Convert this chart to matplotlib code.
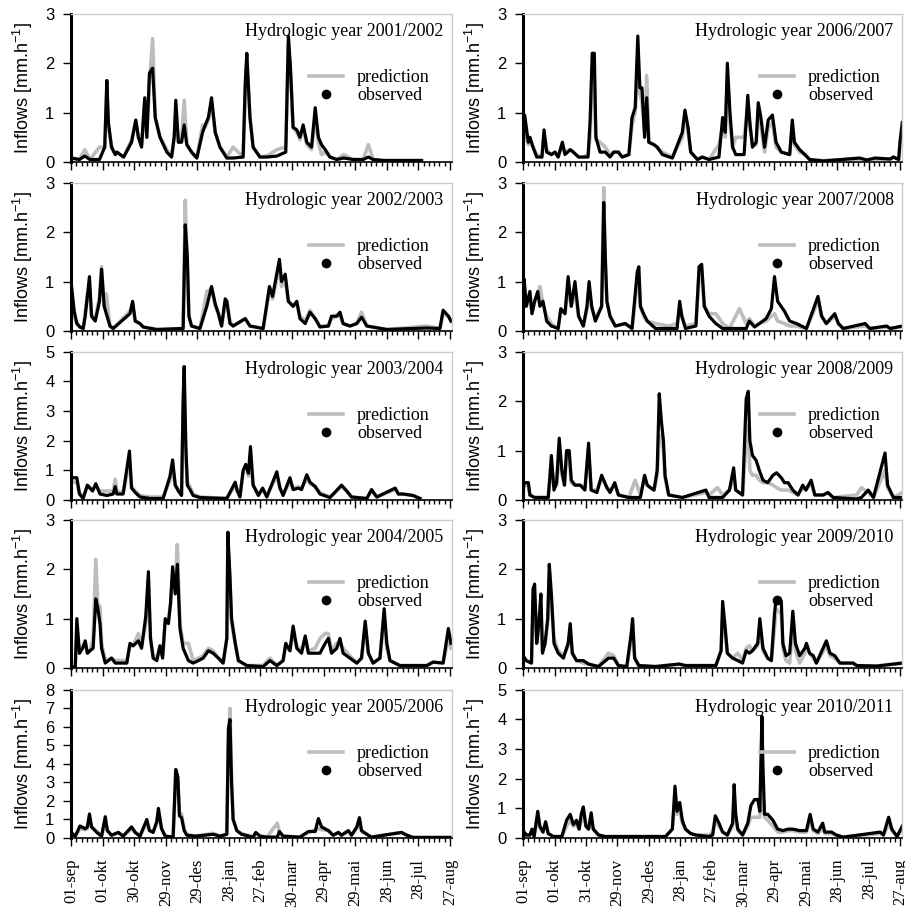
"""
Hourly inflows, predicted vs observed, for ten hydrologic years (2001-2011).
Two columns of five panels, shared day-of-year axis starting 01-sep.
"""

import matplotlib
matplotlib.use("Agg")
import matplotlib.pyplot as plt
import matplotlib.ticker as ticker
from matplotlib.lines import Line2D

plt.rcParams["mathtext.default"] = "regular"

SERIF = "Liberation Serif"
SANS = "Liberation Sans"
PRED_COLOR = "#bdbdbd"
OBS_COLOR = "black"

# x axis: days since 01-sep, one major tick per ~30 days
TICK_DAYS = [0, 30, 60, 90, 120, 150, 180, 210, 240, 270, 300, 330, 360]
LEFT_TICKS = ["01-sep", "01-okt", "30-okt", "29-nov", "29-des", "28-jan", "27-feb",
              "30-mar", "29-apr", "29-mai", "28-jun", "28-jul", "27-aug"]
RIGHT_TICKS = ["01-sep", "01-okt", "31-okt", "29-nov", "29-des", "28-jan", "27-feb",
               "30-mar", "29-apr", "29-mai", "28-jun", "28-jul", "27-aug"]

# ---- 2001/2002 ----
D01 = [0, 8, 13, 18, 27, 32, 34, 35.5, 38.5, 42, 43.5, 50, 57.5, 61.5, 64, 67, 70, 72, 74.5, 77.5,
       80, 84.5, 91, 95.5, 98, 99.5, 102, 105, 107.5, 110, 114.5, 119.5, 125, 127.5, 130.5, 133.5, 137, 141.5, 148, 154,
       163.5, 165.5, 167, 170, 173, 179.5, 186, 195.5, 204, 206.5, 208.5, 211, 214.5, 217.5, 220.5, 224, 228.5, 232, 235, 238,
       241.5, 246, 252.5, 259, 268, 277.5, 282.5, 287, 297, 333]
O01 = [0.08, 0.05, 0.12, 0.05, 0.05, 0.3, 1.65, 0.8, 0.3, 0.15, 0.2, 0.1, 0.4, 0.85, 0.5, 0.3, 1.3, 0.5, 1.8, 1.9,
       0.9, 0.5, 0.2, 0.1, 0.5, 1.25, 0.4, 0.4, 0.75, 0.35, 0.2, 0.08, 0.6, 0.75, 0.9, 1.3, 0.6, 0.3, 0.08, 0.08,
       0.1, 1.6, 2.2, 0.9, 0.3, 0.1, 0.1, 0.12, 0.2, 2.55, 1.9, 0.7, 0.65, 0.5, 0.75, 0.4, 0.3, 1.1, 0.5, 0.35,
       0.25, 0.1, 0.05, 0.08, 0.05, 0.05, 0.1, 0.05, 0.03, 0.03]
P01 = [0.08, 0.05, 0.25, 0.05, 0.3, 0.3, 1.5, 0.7, 0.3, 0.15, 0.2, 0.1, 0.45, 0.8, 0.5, 0.35, 1.2, 0.5, 1.6, 2.5,
       0.9, 0.5, 0.25, 0.1, 0.5, 0.9, 0.4, 0.45, 1.25, 0.35, 0.2, 0.08, 0.75, 0.7, 0.85, 1.2, 0.6, 0.3, 0.1, 0.3,
       0.1, 1.3, 2.0, 0.9, 0.3, 0.1, 0.12, 0.25, 0.3, 2.4, 1.8, 0.7, 0.6, 0.45, 0.7, 0.35, 0.25, 0.9, 0.4, 0.15,
       0.2, 0.1, 0.05, 0.15, 0.05, 0.05, 0.35, 0.05, 0.03, 0.03]

# ---- 2002/2003 ----
D02 = [0, 3, 5.5, 8.5, 11.5, 13.5, 15.5, 17.5, 19.5, 23, 27, 29, 31.5, 33.5, 37, 40, 56, 58.5, 61, 65.5,
       68.5, 81.5, 106.5, 108.5, 110.5, 112, 114.5, 122.5, 129, 133.5, 137, 140, 143, 146.5, 148, 151, 154, 165.5, 170, 182.5,
       188.5, 191.5, 198, 200, 203.5, 206.5, 211, 214.5, 217.5, 222.5, 227, 232, 236.5, 244.5, 247.5, 252.5, 255.5, 258.5, 265, 271.5,
       276, 281, 300, 338, 350.5, 353.5, 358.5, 361]
O02 = [1.0, 0.4, 0.15, 0.08, 0.05, 0.3, 0.7, 1.1, 0.3, 0.2, 0.6, 1.25, 0.5, 0.35, 0.1, 0.05, 0.35, 0.6, 0.2, 0.15,
       0.08, 0.03, 0.05, 2.15, 1.5, 0.3, 0.1, 0.05, 0.5, 0.9, 0.55, 0.35, 0.1, 0.65, 0.6, 0.15, 0.1, 0.25, 0.1, 0.05,
       0.9, 0.7, 1.45, 1.0, 1.15, 0.6, 0.5, 0.6, 0.25, 0.15, 0.38, 0.25, 0.08, 0.1, 0.3, 0.3, 0.38, 0.15, 0.1, 0.15,
       0.28, 0.1, 0.03, 0.06, 0.05, 0.42, 0.3, 0.2]
P02 = [0.6, 0.3, 0.15, 0.08, 0.05, 0.4, 0.75, 0.8, 0.3, 0.25, 0.7, 1.3, 0.5, 0.75, 0.1, 0.05, 0.4, 0.55, 0.2, 0.15,
       0.08, 0.03, 0.05, 2.65, 1.2, 0.3, 0.1, 0.05, 0.8, 0.85, 0.5, 0.35, 0.1, 0.55, 0.6, 0.2, 0.1, 0.25, 0.1, 0.05,
       0.8, 0.65, 1.3, 0.9, 1.0, 0.6, 0.5, 0.55, 0.3, 0.2, 0.42, 0.25, 0.1, 0.1, 0.25, 0.3, 0.3, 0.15, 0.1, 0.15,
       0.38, 0.1, 0.03, 0.1, 0.05, 0.35, 0.3, 0.2]

# ---- 2003/2004 ----
D03 = [0, 5.5, 8, 11.5, 15.5, 18, 20.5, 23.5, 27.5, 34, 40, 42, 43.5, 49.5, 55.5, 57.5, 61, 65.5, 75, 87.5,
       94, 96.5, 99, 102, 105, 106.5, 107.5, 109, 110.5, 113, 116, 122.5, 148, 156, 158, 160.5, 163.5, 166, 168.5, 170.5,
       173, 178, 182, 186, 195.5, 198.5, 201.5, 208, 211, 216, 219, 224, 227, 232, 236.5, 246, 257, 262, 266.5, 281,
       285.5, 290.5, 308, 311, 315.5, 325, 331.5]
O03 = [0.75, 0.75, 0.2, 0.05, 0.5, 0.4, 0.3, 0.55, 0.2, 0.15, 0.2, 0.45, 0.2, 0.2, 1.65, 0.4, 0.25, 0.1, 0.05, 0.05,
       0.8, 1.35, 0.5, 0.3, 0.15, 3.4, 4.5, 1.9, 0.5, 0.35, 0.15, 0.08, 0.05, 0.6, 0.3, 0.1, 1.0, 1.2, 0.9, 1.8,
       0.5, 0.15, 0.4, 0.1, 0.95, 0.4, 0.15, 0.75, 0.35, 0.4, 0.35, 0.85, 0.6, 0.45, 0.2, 0.08, 0.5, 0.3, 0.1, 0.05,
       0.35, 0.1, 0.4, 0.2, 0.2, 0.15, 0.05]
P03 = [0.6, 0.6, 0.25, 0.1, 0.45, 0.4, 0.35, 0.5, 0.3, 0.3, 0.3, 0.7, 0.3, 0.25, 1.3, 0.45, 0.3, 0.15, 0.1, 0.1,
       0.65, 1.1, 0.5, 0.35, 0.2, 3.0, 4.0, 1.5, 0.6, 0.45, 0.2, 0.1, 0.05, 0.5, 0.3, 0.15, 0.9, 1.1, 0.8, 1.4,
       0.5, 0.2, 0.35, 0.15, 0.8, 0.4, 0.2, 0.6, 0.4, 0.45, 0.4, 0.7, 0.55, 0.45, 0.25, 0.1, 0.45, 0.3, 0.1, 0.05,
       0.3, 0.1, 0.35, 0.2, 0.2, 0.15, 0.05]

# ---- 2004/2005 ----
D04 = [0, 4, 5.5, 8, 11, 13.5, 15.5, 18, 21, 23.5, 25.5, 27.5, 29, 32.5, 38.5, 42, 53, 56, 59, 64,
       67, 71, 73.5, 75.5, 78, 81.5, 84.5, 87, 89.5, 92.5, 94.5, 96.5, 99, 101, 103.5, 106.5, 111.5, 116, 121, 125.5,
       130.5, 135, 140, 144.5, 148, 149, 151, 152.5, 156, 159, 167, 182.5, 189, 195.5, 201.5, 204, 208, 211, 214.5, 219,
       222.5, 225.5, 232, 236.5, 241.5, 244.5, 247.5, 252.5, 255.5, 258.5, 265, 271.5, 276, 279.5, 282.5, 287, 293.5, 297.5, 300, 303,
       312.5, 338, 344, 353.5, 358.5, 361]
O04 = [0.02, 0.02, 1.0, 0.3, 0.4, 0.55, 0.3, 0.35, 0.4, 1.4, 1.2, 0.9, 0.4, 0.1, 0.2, 0.1, 0.1, 0.5, 0.45, 0.55,
       0.4, 1.05, 1.95, 0.6, 0.2, 0.15, 0.45, 0.2, 1.0, 0.9, 1.3, 2.05, 1.5, 2.1, 0.8, 0.4, 0.15, 0.1, 0.15, 0.2,
       0.35, 0.3, 0.2, 0.1, 0.6, 2.75, 1.85, 1.0, 0.5, 0.15, 0.05, 0.03, 0.15, 0.05, 0.15, 0.5, 0.35, 0.85, 0.4, 0.3,
       0.65, 0.3, 0.3, 0.3, 0.5, 0.6, 0.3, 0.4, 0.6, 0.3, 0.2, 0.1, 0.2, 0.95, 0.3, 0.1, 0.2, 1.2, 0.5, 0.15,
       0.05, 0.05, 0.12, 0.1, 0.8, 0.5]
P04 = [0.02, 0.02, 0.8, 0.3, 0.45, 0.5, 0.3, 0.35, 0.6, 2.2, 1.25, 1.25, 0.5, 0.15, 0.2, 0.15, 0.15, 0.45, 0.45, 0.7,
       0.45, 0.9, 1.6, 0.6, 0.25, 0.2, 0.45, 0.25, 0.9, 1.0, 1.3, 1.9, 1.7, 2.5, 0.9, 0.5, 0.5, 0.15, 0.2, 0.25,
       0.4, 0.35, 0.2, 0.1, 0.6, 2.5, 1.7, 0.9, 0.5, 0.15, 0.05, 0.05, 0.2, 0.05, 0.15, 0.45, 0.35, 0.7, 0.45, 0.35,
       0.6, 0.35, 0.4, 0.6, 0.7, 0.7, 0.35, 0.5, 0.5, 0.4, 0.25, 0.1, 0.2, 0.8, 0.3, 0.1, 0.2, 1.0, 0.4, 0.15,
       0.05, 0.05, 0.12, 0.1, 0.6, 0.4]

# ---- 2005/2006 ----
D05 = [0, 4, 8.5, 13.5, 15.5, 17.5, 19.5, 24.5, 29, 32.5, 34.5, 38.5, 45, 49.5, 57.5, 61, 65.5, 72, 74.5, 78,
       81.5, 83, 86, 89.5, 97, 99.5, 101.5, 103, 105, 107.5, 110, 118, 135, 141.5, 148, 149.5, 151, 152.5, 154, 157.5,
       162, 173, 175.5, 179.5, 186, 196, 198, 201.5, 217.5, 225.5, 232, 235, 238, 244.5, 249, 254, 257, 263.5, 266.5, 271.5,
       274, 276, 281, 285.5, 314, 319, 325, 360]
O05 = [0.3, 0.1, 0.65, 0.5, 0.6, 1.3, 0.6, 0.3, 0.1, 1.15, 0.4, 0.15, 0.3, 0.1, 0.6, 0.3, 0.1, 1.0, 0.4, 0.3,
       0.9, 1.6, 0.5, 0.1, 0.05, 3.7, 3.3, 1.2, 1.1, 0.4, 0.15, 0.1, 0.2, 0.1, 0.2, 5.9, 6.4, 3.0, 1.0, 0.4,
       0.2, 0.05, 0.3, 0.1, 0.05, 0.05, 0.35, 0.1, 0.05, 0.35, 0.35, 1.05, 0.6, 0.4, 0.15, 0.3, 0.15, 0.4, 0.15, 0.6,
       1.1, 0.4, 0.2, 0.05, 0.3, 0.15, 0.03, 0.03]
P05 = [0.3, 0.1, 0.5, 0.45, 0.5, 1.0, 0.6, 0.35, 0.1, 0.9, 0.4, 0.15, 0.3, 0.1, 0.5, 0.3, 0.1, 0.8, 0.4, 0.35,
       0.8, 1.3, 0.5, 0.1, 0.05, 3.6, 3.0, 1.3, 1.3, 0.45, 0.2, 0.1, 0.25, 0.1, 0.2, 5.0, 7.0, 3.3, 1.0, 0.4,
       0.25, 0.05, 0.25, 0.1, 0.05, 0.8, 0.3, 0.1, 0.05, 0.3, 0.45, 0.5, 0.45, 0.4, 0.15, 0.3, 0.15, 0.35, 0.15, 0.5,
       0.9, 0.35, 0.2, 0.05, 0.3, 0.15, 0.03, 0.03]

# ---- 2006/2007 ----
D06 = [0, 1.5, 5, 6.5, 9.5, 13, 18, 20, 22.5, 27, 30.5, 33.5, 37.5, 40, 45, 48, 53, 57.5, 62, 64,
       66, 68, 69.5, 73.5, 78.5, 83, 86.5, 91, 94.5, 101, 104, 107, 109.5, 111.5, 113.5, 116, 118, 120, 125, 128,
       133, 142.5, 152, 154.5, 157.5, 160, 166.5, 171, 177.5, 187, 190.5, 193, 195, 197.5, 200, 203, 208, 211, 214.5, 216.5,
       219, 222.5, 224.5, 227, 230.5, 234, 238, 241.5, 246.5, 254.5, 257, 259, 264, 269, 273.5, 286.5, 321.5, 328, 336, 350.5,
       353.5, 358.5, 360, 362]
O06 = [0.3, 0.95, 0.4, 0.5, 0.3, 0.1, 0.1, 0.65, 0.2, 0.15, 0.2, 0.1, 0.4, 0.15, 0.25, 0.2, 0.1, 0.1, 0.1, 0.85,
       2.2, 2.2, 0.5, 0.2, 0.2, 0.1, 0.2, 0.2, 0.1, 0.15, 0.9, 1.1, 2.55, 1.5, 1.5, 0.5, 1.3, 0.4, 0.35, 0.3,
       0.15, 0.08, 0.6, 1.05, 0.7, 0.2, 0.05, 0.1, 0.05, 0.1, 0.9, 0.6, 2.0, 1.0, 0.3, 0.15, 0.15, 0.15, 1.35, 0.8,
       0.3, 0.4, 1.2, 0.9, 0.3, 0.85, 0.95, 0.4, 0.2, 0.15, 0.85, 0.4, 0.25, 0.15, 0.05, 0.02, 0.08, 0.04, 0.08, 0.06,
       0.1, 0.05, 0.45, 0.8]
P06 = [0.3, 0.7, 0.35, 0.45, 0.3, 0.15, 0.1, 0.55, 0.25, 0.15, 0.2, 0.1, 0.35, 0.2, 0.25, 0.2, 0.1, 0.1, 0.15, 0.5,
       1.9, 1.5, 0.45, 0.4, 0.3, 0.15, 0.2, 0.2, 0.1, 0.15, 0.75, 1.0, 1.75, 1.4, 1.2, 0.6, 1.75, 0.4, 0.35, 0.3,
       0.2, 0.1, 0.5, 0.9, 0.6, 0.2, 0.05, 0.1, 0.05, 0.35, 0.7, 0.5, 1.6, 0.8, 0.3, 0.5, 0.5, 0.5, 1.1, 0.7,
       0.35, 0.35, 1.0, 0.75, 0.2, 0.7, 0.8, 0.3, 0.2, 0.15, 0.7, 0.35, 0.2, 0.15, 0.05, 0.03, 0.06, 0.04, 0.06, 0.05,
       0.1, 0.05, 0.4, 0.6]

# ---- 2007/2008 ----
D07 = [0, 1, 3, 6.5, 8.5, 11, 14, 16, 19, 22.5, 27, 33.5, 36, 40, 43, 46, 49.5, 53, 57.5, 61,
       63, 65.5, 69, 75, 77, 78.5, 80, 83, 88, 97.5, 104, 109, 110.5, 112, 115, 118.5, 126.5, 139, 147, 149.5,
       151.5, 155, 165, 168, 170.5, 173, 177.5, 184, 190.5, 197, 206.5, 213, 216, 221, 225.5, 232, 237, 240, 243, 249.5,
       254.5, 261, 270.5, 281.5, 285, 289.5, 297.5, 301, 305.5, 326.5, 331, 347, 350.5, 362]
O07 = [0.5, 1.05, 0.5, 0.8, 0.35, 0.6, 0.8, 0.5, 0.6, 0.2, 0.1, 0.05, 0.45, 0.35, 1.1, 0.5, 1.0, 0.3, 0.1, 0.5,
       1.0, 0.5, 0.2, 0.5, 2.6, 1.5, 0.6, 0.3, 0.1, 0.15, 0.05, 1.2, 1.3, 0.5, 0.35, 0.2, 0.05, 0.05, 0.05, 0.6,
       0.3, 0.05, 0.1, 1.3, 1.35, 0.5, 0.3, 0.15, 0.05, 0.05, 0.05, 0.05, 0.2, 0.08, 0.15, 0.25, 0.45, 1.1, 0.6, 0.4,
       0.2, 0.15, 0.05, 0.7, 0.3, 0.15, 0.35, 0.15, 0.05, 0.15, 0.05, 0.1, 0.05, 0.1]
P07 = [0.5, 0.9, 0.5, 0.7, 0.35, 0.6, 0.7, 0.9, 0.55, 0.3, 0.15, 0.05, 0.45, 0.35, 0.9, 0.5, 0.8, 0.3, 0.1, 0.45,
       0.85, 0.45, 0.25, 0.5, 2.9, 1.3, 0.6, 0.3, 0.1, 0.15, 0.05, 1.0, 1.1, 0.5, 0.3, 0.2, 0.15, 0.1, 0.15, 0.5,
       0.3, 0.1, 0.15, 1.1, 1.2, 0.5, 0.35, 0.35, 0.15, 0.05, 0.45, 0.15, 0.25, 0.1, 0.15, 0.2, 0.3, 0.35, 0.2, 0.15,
       0.1, 0.1, 0.05, 0.6, 0.3, 0.15, 0.3, 0.15, 0.05, 0.1, 0.05, 0.08, 0.05, 0.08]

# ---- 2008/2009 ----
D08 = [0, 1, 5, 6.5, 11, 24, 25.5, 27, 29.5, 32, 34.5, 37, 39.5, 41.5, 44, 46, 49.5, 54.5, 59, 62.5,
       65, 70.5, 75, 80, 83, 87.5, 91, 101, 107, 112, 116, 118.5, 121.5, 125, 128, 130, 132, 134, 135.5, 139,
       152, 174.5, 177.5, 185.5, 190.5, 197, 201, 203, 209.5, 213, 215, 216.5, 219, 222.5, 225.5, 229, 233.5, 238.5, 242, 246.5,
       249.5, 253, 257.5, 262.5, 267, 270, 275, 278.5, 286.5, 291, 296, 318.5, 323, 329.5, 334.5, 345.5, 348, 353.5, 362]
O08 = [0.2, 0.35, 0.35, 0.1, 0.05, 0.05, 0.45, 0.9, 0.2, 0.35, 1.25, 0.6, 0.3, 1.0, 1.0, 0.4, 0.3, 0.3, 0.2, 1.15,
       0.2, 0.15, 0.5, 0.25, 0.15, 0.35, 0.1, 0.05, 0.05, 0.05, 0.5, 0.3, 0.25, 0.2, 0.6, 2.15, 1.6, 1.2, 0.5, 0.1,
       0.05, 0.2, 0.05, 0.05, 0.05, 0.2, 0.65, 0.2, 0.1, 2.05, 2.2, 1.2, 0.9, 0.8, 0.6, 0.4, 0.35, 0.5, 0.55, 0.45,
       0.35, 0.35, 0.2, 0.1, 0.3, 0.2, 0.4, 0.1, 0.1, 0.15, 0.05, 0.02, 0.05, 0.2, 0.05, 0.95, 0.3, 0.05, 0.05]
P08 = [0.2, 0.3, 0.3, 0.1, 0.05, 0.05, 0.4, 0.7, 0.25, 0.3, 1.0, 0.5, 0.3, 0.9, 0.9, 0.35, 0.3, 0.3, 0.25, 1.0,
       0.2, 0.2, 0.45, 0.25, 0.2, 0.3, 0.1, 0.05, 0.4, 0.1, 0.45, 0.3, 0.25, 0.2, 0.5, 1.3, 1.3, 1.0, 0.45, 0.1,
       0.05, 0.15, 0.1, 0.25, 0.1, 0.2, 0.45, 0.2, 0.1, 1.2, 1.5, 0.6, 0.5, 0.5, 0.4, 0.35, 0.35, 0.3, 0.25, 0.2,
       0.2, 0.2, 0.15, 0.1, 0.25, 0.2, 0.35, 0.1, 0.1, 0.15, 0.05, 0.1, 0.25, 0.15, 0.05, 0.6, 0.25, 0.05, 0.15]

# ---- 2009/2010 ----
D09 = [0, 3, 8, 9.5, 11, 13, 15, 17, 18.5, 21, 23.5, 25, 27, 29.5, 33.5, 38.5, 43, 45, 47, 51,
       57.5, 62.5, 72, 81.5, 86.5, 91, 99, 103.5, 104.5, 106.5, 110.5, 126.5, 149, 155, 184, 189, 190.5, 193, 195, 200,
       205, 209.5, 213, 216, 219, 224, 226, 229, 233.5, 237, 240, 241.5, 246.5, 248, 251, 254.5, 257.5, 260, 264, 269,
       270.5, 273.5, 277, 280, 289.5, 293, 297.5, 302.5, 315, 318.5, 337.5, 362]
O09 = [0.25, 0.15, 0.1, 1.6, 1.7, 0.5, 0.9, 1.5, 0.3, 0.5, 1.0, 2.1, 1.5, 0.5, 0.3, 0.2, 0.5, 0.9, 0.3, 0.15,
       0.15, 0.08, 0.03, 0.2, 0.2, 0.05, 0.03, 0.75, 1.0, 0.2, 0.05, 0.03, 0.08, 0.05, 0.05, 0.35, 1.35, 0.8, 0.3, 0.2,
       0.15, 0.1, 0.35, 0.3, 0.35, 0.5, 1.0, 0.4, 0.2, 0.15, 1.1, 1.4, 1.35, 0.5, 0.25, 0.3, 1.15, 0.5, 0.25, 0.4,
       0.5, 0.3, 0.25, 0.1, 0.55, 0.3, 0.25, 0.1, 0.1, 0.05, 0.04, 0.1]
P09 = [0.25, 0.15, 0.1, 1.3, 1.4, 0.5, 0.8, 1.2, 0.35, 0.5, 0.9, 1.8, 1.3, 0.6, 0.35, 0.25, 0.45, 0.7, 0.3, 0.15,
       0.1, 0.08, 0.03, 0.3, 0.25, 0.05, 0.03, 0.6, 0.9, 0.2, 0.05, 0.03, 0.08, 0.05, 0.05, 0.35, 1.1, 0.7, 0.3, 0.2,
       0.3, 0.15, 0.4, 0.45, 0.35, 0.45, 0.85, 0.35, 0.2, 0.15, 0.8, 1.2, 1.1, 0.4, 0.15, 0.1, 0.9, 0.35, 0.1, 0.3,
       0.4, 0.3, 0.2, 0.1, 0.45, 0.25, 0.2, 0.1, 0.1, 0.05, 0.04, 0.1]

# ---- 2010/2011 ----
D10 = [0, 3, 6.5, 8.5, 10.5, 14, 16, 19, 21.5, 24, 29, 37, 41.5, 45, 48, 51, 53.5, 55.5, 57.5, 60,
       62.5, 65, 67, 72, 78.5, 136, 142.5, 145, 147, 149.5, 152, 155, 160, 165, 177.5, 181, 183.5, 187, 190.5, 195,
       200, 201.5, 203, 205, 209.5, 214.5, 217.5, 221, 224, 226, 228, 229, 230.5, 233.5, 238.5, 243, 248, 253, 257.5, 264,
       270.5, 274, 277, 281.5, 286, 288, 294.5, 299, 305.5, 341, 344, 349, 352, 357, 362]
O10 = [0.25, 0.1, 0.1, 0.3, 0.05, 0.9, 0.4, 0.2, 0.55, 0.15, 0.05, 0.05, 0.6, 0.8, 0.45, 0.6, 0.3, 0.8, 1.05, 0.4,
       0.3, 0.85, 0.3, 0.1, 0.05, 0.05, 0.3, 1.75, 0.9, 1.2, 0.6, 0.3, 0.15, 0.1, 0.05, 0.1, 0.75, 0.5, 0.2, 0.1,
       0.5, 1.8, 0.8, 0.3, 0.1, 0.5, 1.1, 1.3, 1.3, 0.9, 4.1, 2.4, 0.8, 0.8, 0.6, 0.3, 0.25, 0.3, 0.3, 0.25,
       0.25, 0.8, 0.3, 0.2, 0.5, 0.2, 0.2, 0.1, 0.03, 0.2, 0.1, 0.7, 0.3, 0.05, 0.4]
P10 = [0.2, 0.1, 0.1, 0.25, 0.05, 0.7, 0.35, 0.2, 0.45, 0.15, 0.05, 0.05, 0.4, 0.6, 0.4, 0.45, 0.3, 0.6, 0.8, 0.4,
       0.3, 0.6, 0.3, 0.1, 0.05, 0.05, 0.3, 1.3, 0.8, 0.9, 0.5, 0.3, 0.15, 0.1, 0.1, 0.2, 0.6, 0.4, 0.2, 0.1,
       0.4, 1.2, 0.6, 0.25, 0.1, 0.4, 0.7, 0.7, 0.7, 0.7, 2.0, 1.2, 0.7, 0.6, 0.4, 0.2, 0.2, 0.25, 0.25, 0.2,
       0.2, 0.6, 0.25, 0.15, 0.35, 0.15, 0.15, 0.1, 0.03, 0.15, 0.1, 0.5, 0.25, 0.05, 0.3]

YEARS = ["2001/2002", "2002/2003", "2003/2004", "2004/2005", "2005/2006",
         "2006/2007", "2007/2008", "2008/2009", "2009/2010", "2010/2011"]
YMAX = [3, 3, 5, 3, 8, 3, 3, 3, 3, 5]
SERIES = [(D01, O01, P01), (D02, O02, P02), (D03, O03, P03), (D04, O04, P04), (D05, O05, P05),
          (D06, O06, P06), (D07, O07, P07), (D08, O08, P08), (D09, O09, P09), (D10, O10, P10)]

# panel geometry in figure fractions (905 x 909 px)
COL_LEFT = [0.0785, 0.578]
COL_WIDTH = [0.421, 0.419]
ROW_BOTTOM = [0.8218, 0.6359, 0.4500, 0.2651, 0.0781]
ROW_HEIGHT = 0.163


def draw_panel(fig, rect, year, days, obs, pred, ymax, xlabels):
    ax = fig.add_axes(rect)
    ax.plot(days, pred, color=PRED_COLOR, linewidth=2.6)
    ax.plot(days, obs, color=OBS_COLOR, linewidth=2.3)

    ax.set_xlim(0, 362)
    ax.set_ylim(0, ymax)
    ax.set_yticks(range(ymax + 1))
    ax.xaxis.set_major_locator(ticker.FixedLocator(TICK_DAYS))
    ax.xaxis.set_minor_locator(ticker.MultipleLocator(5))

    for side in ("top", "right"):
        ax.spines[side].set_color("#cccccc")
        ax.spines[side].set_linewidth(1.0)
    ax.spines["left"].set_linewidth(2.2)
    ax.spines["bottom"].set_linewidth(1.2)

    ax.tick_params(axis="y", which="major", direction="out", length=6, width=1.0, pad=6)
    ax.tick_params(axis="x", which="major", direction="out", length=6, width=1.0, pad=9)
    ax.tick_params(axis="x", which="minor", direction="out", length=3, width=1.0)
    for lbl in ax.get_yticklabels():
        lbl.set_fontfamily(SANS)
        lbl.set_fontsize(12)

    if xlabels:
        ax.set_xticklabels(xlabels, rotation=90, fontfamily=SERIF, fontsize=12)
    else:
        ax.set_xticklabels([])

    ax.set_ylabel("Inflows [mm.h$^{-1}$]", fontfamily=SANS, fontsize=13)
    ax.yaxis.set_label_coords(-0.095, 0.5)

    ax.text(0.977, 0.94, "Hydrologic year " + year, transform=ax.transAxes,
            ha="right", va="top", fontfamily=SERIF, fontsize=13)

    handles = [Line2D([], [], color=PRED_COLOR, linewidth=2.6),
               Line2D([], [], color=OBS_COLOR, marker="o", linestyle="none", markersize=6)]
    ax.legend(handles, ["prediction", "observed"], loc="upper left",
              bbox_to_anchor=(0.625, 0.625), frameon=False, borderpad=0, borderaxespad=0,
              handlelength=1.9, handletextpad=0.75, labelspacing=0.05,
              prop={"family": SERIF, "size": 13})
    return ax


def plot(out_file):
    fig = plt.figure(figsize=(9.05, 9.09), dpi=100)
    for i, year in enumerate(YEARS):
        col, row = divmod(i, 5)
        rect = [COL_LEFT[col], ROW_BOTTOM[row], COL_WIDTH[col], ROW_HEIGHT]
        xlabels = None
        if row == 4:
            xlabels = LEFT_TICKS if col == 0 else RIGHT_TICKS
        days, obs, pred = SERIES[i]
        draw_panel(fig, rect, year, days, obs, pred, YMAX[i], xlabels)

    fig.savefig(out_file, dpi=100)
    plt.close(fig)


if __name__ == "__main__":
    plot("out.png")
